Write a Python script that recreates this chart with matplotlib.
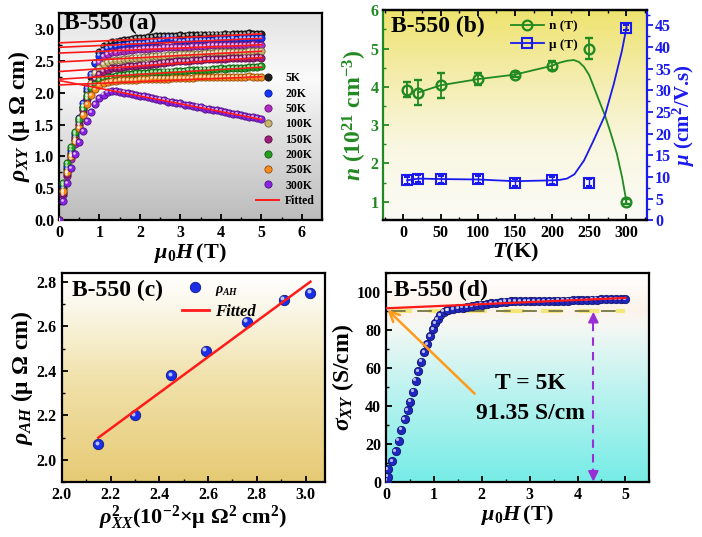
import numpy as np
import matplotlib
matplotlib.use('Agg')
import matplotlib.pyplot as plt
from matplotlib.colors import LinearSegmentedColormap, to_rgb
from matplotlib.transforms import offset_copy
from matplotlib.ticker import MultipleLocator
from matplotlib.lines import Line2D

plt.rcParams.update({
    'font.family': 'Liberation Serif', 'font.weight': 'bold', 'axes.labelweight': 'bold',
    'mathtext.fontset': 'custom', 'mathtext.rm': 'Liberation Serif:bold',
    'mathtext.it': 'Liberation Serif:italic:bold', 'mathtext.bf': 'Liberation Serif:bold',
    'xtick.direction': 'in', 'ytick.direction': 'in', 'axes.linewidth': 1.6,
    'xtick.major.width': 1.3, 'ytick.major.width': 1.3, 'xtick.minor.width': 1.0, 'ytick.minor.width': 1.0,
    'xtick.major.size': 4, 'ytick.major.size': 4, 'xtick.minor.size': 2.5, 'ytick.minor.size': 2.5,
    'xtick.labelsize': 11.5, 'ytick.labelsize': 11.5,
})

# ---------------- data (a) ----------------
field_a = np.round(np.arange(0, 5.01, 0.1), 2)
temps_a = ['5K', '20K', '50K', '100K', '150K', '200K', '250K', '300K']
colors_a = ['#1e1e1e', '#1434ff', '#b02cc4', '#c8b46e', '#a01c7c', '#22a022', '#ff8c1a', '#8a22e6']
rho_5K = [0.00, 0.50, 0.80, 1.05, 1.30, 1.55, 1.78, 2.02, 2.25, 2.47, 2.64, 2.73, 2.77, 2.79, 2.80, 2.81,
          2.82, 2.83, 2.84, 2.85, 2.86, 2.86, 2.87, 2.87, 2.88, 2.88, 2.88, 2.89, 2.89, 2.89, 2.90,
          2.89, 2.90, 2.90, 2.90, 2.91, 2.90, 2.91, 2.91, 2.91, 2.91, 2.92, 2.91, 2.92, 2.92, 2.92,
          2.92, 2.93, 2.92, 2.92, 2.92]
rho_20K = [0.00, 0.55, 0.85, 1.10, 1.35, 1.60, 1.84, 2.07, 2.29, 2.46, 2.58, 2.66, 2.70, 2.72, 2.73, 2.74,
           2.75, 2.76, 2.77, 2.77, 2.78, 2.78, 2.79, 2.80, 2.81, 2.82, 2.84, 2.85, 2.84, 2.82, 2.81,
           2.81, 2.82, 2.82, 2.82, 2.83, 2.83, 2.83, 2.83, 2.84, 2.84, 2.84, 2.84, 2.85, 2.84, 2.85,
           2.85, 2.85, 2.85, 2.86, 2.85]
rho_50K = [0.00, 0.40, 0.70, 0.96, 1.20, 1.44, 1.67, 1.90, 2.12, 2.32, 2.48, 2.57, 2.61, 2.63, 2.64, 2.65,
           2.66, 2.67, 2.67, 2.68, 2.68, 2.69, 2.69, 2.70, 2.70, 2.70, 2.71, 2.71, 2.71, 2.72, 2.72,
           2.72, 2.72, 2.73, 2.73, 2.73, 2.73, 2.74, 2.74, 2.74, 2.74, 2.74, 2.75, 2.74, 2.75, 2.75,
           2.75, 2.75, 2.76, 2.75, 2.75]
rho_100K = [0.00, 0.45, 0.76, 1.02, 1.27, 1.51, 1.74, 1.96, 2.15, 2.30, 2.39, 2.45, 2.48, 2.50, 2.51, 2.51,
            2.52, 2.53, 2.54, 2.55, 2.55, 2.56, 2.56, 2.57, 2.57, 2.58, 2.58, 2.59, 2.59, 2.59, 2.60,
            2.60, 2.60, 2.61, 2.61, 2.61, 2.62, 2.62, 2.62, 2.63, 2.63, 2.63, 2.63, 2.64, 2.64, 2.64,
            2.64, 2.65, 2.65, 2.65, 2.65]
rho_150K = [0.00, 0.42, 0.73, 1.00, 1.25, 1.49, 1.72, 1.92, 2.09, 2.21, 2.29, 2.33, 2.36, 2.38, 2.39, 2.39,
            2.40, 2.41, 2.42, 2.42, 2.43, 2.44, 2.44, 2.45, 2.45, 2.46, 2.47, 2.48, 2.48, 2.49, 2.49,
            2.50, 2.50, 2.51, 2.51, 2.51, 2.52, 2.52, 2.52, 2.53, 2.53, 2.53, 2.54, 2.54, 2.54, 2.54,
            2.55, 2.55, 2.55, 2.56, 2.55]
rho_200K = [0.00, 0.58, 0.90, 1.15, 1.38, 1.59, 1.78, 1.95, 2.07, 2.14, 2.19, 2.22, 2.24, 2.25, 2.26, 2.27,
            2.28, 2.29, 2.29, 2.30, 2.30, 2.31, 2.31, 2.32, 2.32, 2.32, 2.33, 2.33, 2.33, 2.34, 2.34,
            2.34, 2.35, 2.35, 2.35, 2.36, 2.36, 2.36, 2.37, 2.37, 2.38, 2.37, 2.38, 2.38, 2.39, 2.39,
            2.39, 2.40, 2.40, 2.40, 2.41]
rho_250K = [0.00, 0.45, 0.75, 1.00, 1.24, 1.45, 1.65, 1.82, 1.96, 2.06, 2.12, 2.15, 2.17, 2.18, 2.18, 2.19,
            2.19, 2.20, 2.20, 2.20, 2.21, 2.21, 2.21, 2.22, 2.22, 2.22, 2.22, 2.22, 2.23, 2.23, 2.23,
            2.23, 2.23, 2.23, 2.24, 2.24, 2.24, 2.24, 2.24, 2.24, 2.25, 2.25, 2.24, 2.25, 2.25, 2.25,
            2.25, 2.26, 2.25, 2.25, 2.25]
rho_300K = [0.00, 0.30, 0.58, 0.82, 1.03, 1.22, 1.40, 1.56, 1.70, 1.82, 1.91, 1.97, 2.01, 2.02, 2.02, 2.01,
            2.00, 1.99, 1.98, 1.96, 1.95, 1.94, 1.93, 1.91, 1.90, 1.89, 1.88, 1.86, 1.85, 1.84, 1.83,
            1.81, 1.80, 1.79, 1.78, 1.77, 1.75, 1.74, 1.73, 1.72, 1.71, 1.69, 1.68, 1.67, 1.66, 1.65,
            1.63, 1.62, 1.61, 1.60, 1.58]
rho_all = [rho_5K, rho_20K, rho_50K, rho_100K, rho_150K, rho_200K, rho_250K, rho_300K]
fit_field_a = [0.0, 5.0]
fit_start_a = [2.78, 2.71, 2.62, 2.48, 2.33, 2.21, 2.12, 2.19]
fit_end_a = [2.92, 2.85, 2.75, 2.65, 2.55, 2.40, 2.25, 1.58]

# ---------------- data (b) ----------------
T_b = [5, 20, 50, 100, 150, 200, 250, 300]
n_b = [3.93, 3.85, 4.04, 4.20, 4.32, 4.55, 5.00, 1.00]
n_err = [0.20, 0.32, 0.33, 0.16, 0.07, 0.12, 0.27, 0.06]
mu_b = [9.2, 9.6, 9.4, 9.4, 8.6, 9.2, 8.6, 44.5]
mu_err = [0.8, 0.8, 0.7, 0.8, 0.8, 0.8, 0.8, 0.6]
n_line_T = [20, 50, 100, 150, 200, 210, 220, 229, 236, 243, 250, 256, 263, 271, 279, 287, 294, 300]
n_line = [3.85, 4.04, 4.20, 4.32, 4.55, 4.63, 4.68, 4.70, 4.65, 4.52, 4.30, 4.00, 3.65, 3.26, 2.78, 2.26, 1.65, 1.00]
mu_line_T = [5, 20, 50, 100, 150, 200, 210, 220, 230, 243, 256, 271, 283, 294, 300]
mu_line = [9.2, 9.6, 9.5, 9.4, 9.0, 9.2, 9.3, 9.6, 10.6, 13.8, 18.5, 24.2, 31.5, 39.2, 44.5]

# ---------------- data (c) ----------------
rho_xx2 = [2.15, 2.30, 2.45, 2.59, 2.76, 2.91, 3.02]
rho_ah = [2.07, 2.20, 2.38, 2.49, 2.62, 2.72, 2.75]
fit_c_x = [2.15, 3.02]
fit_c_y = [2.10, 2.80]

# ---------------- data (d) ----------------
field_d = [0.01, 0.035, 0.035, 0.13, 0.20, 0.26, 0.32, 0.39, 0.45, 0.50, 0.56, 0.62, 0.67, 0.73, 0.79,
           0.86, 0.92, 0.98, 1.03, 1.08, 1.13, 1.20, 1.27,
           1.3, 1.4, 1.5, 1.6, 1.7, 1.8, 1.9, 2.0, 2.1, 2.2, 2.3, 2.4, 2.5, 2.6, 2.7, 2.8, 2.9, 3.0,
           3.1, 3.2, 3.3, 3.4, 3.5, 3.6, 3.7, 3.8, 3.9, 4.0, 4.1, 4.2, 4.3, 4.4, 4.5, 4.6, 4.7, 4.8,
           4.9, 5.0]
sigma_d = [0.9, 3.0, 6.8, 11.2, 16.4, 21.9, 27.6, 33.0, 37.9, 42.3, 47.6, 53.3, 58.4, 63.3, 68.2,
           72.6, 76.7, 80.4, 83.4, 85.5, 87.8, 89.5, 90.4,
           90.4, 91.0, 91.3, 91.7, 92.1, 92.5, 92.9, 93.3, 93.6, 93.9, 94.2, 94.5, 94.8, 95.0, 95.1,
           95.1, 95.0, 95.1, 95.2, 95.1, 95.1, 95.2, 95.1, 95.3, 95.3, 95.4, 95.5, 95.6, 95.6, 95.7,
           95.8, 95.9, 96.0, 96.0, 96.1, 96.1, 96.2, 96.2]
fit_d_x = [0.0, 5.0]
fit_d_y = [91.35, 96.8]
sigma_level = 90.0
arrow_H = 4.33

green = '#228a22'
blue = '#1a1aee'

fig = plt.figure(figsize=(7.02, 5.37), dpi=100)


def grad_bg(ax, stops):
    cmap = LinearSegmentedColormap.from_list('g', stops)
    ax.imshow(np.linspace(0, 1, 256).reshape(-1, 1), cmap=cmap, extent=[0, 1, 0, 1],
              transform=ax.transAxes, aspect='auto', origin='lower', zorder=0)


def darker(c, f=0.55):
    r, g, b = to_rgb(c)
    return (r * f, g * f, b * f)


def spheres(ax, x, y, color, ms, zorder=3, label=None):
    ax.plot(x, y, 'o', ls='none', ms=ms, mfc=color, mec=darker(color), mew=0.6, zorder=zorder, label=label)
    tr = offset_copy(ax.transData, fig=ax.figure, x=-ms * 0.16, y=ms * 0.16, units='points')
    ax.plot(x, y, 'o', ls='none', ms=ms * 0.38, mfc='white', mec='none', alpha=0.7,
            zorder=zorder + 0.1, transform=tr)


XL = 16
YL = 17

# ---------------- panel (a) ----------------
axa = fig.add_axes([0.084, 0.590, 0.375, 0.386])
grad_bg(axa, [(0, '#bcbcbc'), (0.45, '#e4e4e4'), (0.68, '#fbfbfb'), (1, '#e2e2e2')])
handles = []
for lab, col, vals in zip(temps_a, colors_a, rho_all):
    spheres(axa, field_a, vals, col, 5.2)
    handles.append(Line2D([], [], ls='none', marker='o', ms=5.2, mfc=col, mec=darker(col), mew=0.6))
for s, e in zip(fit_start_a, fit_end_a):
    axa.plot(fit_field_a, [s, e], color='#ff1a1a', lw=1.2, zorder=5)
handles.append(Line2D([], [], color='#ff1a1a', lw=1.4))
axa.legend(handles, temps_a + ['Fitted'], loc='lower right', bbox_to_anchor=(1.0, 0.03), frameon=False,
           fontsize=8.5, labelspacing=0.28, handlelength=2.0, handletextpad=0.5, borderaxespad=0.2)
axa.set_xlim(0, 6.5)
axa.set_ylim(0, 3.25)
axa.xaxis.set_major_locator(MultipleLocator(1))
axa.xaxis.set_minor_locator(MultipleLocator(0.5))
axa.yaxis.set_major_locator(MultipleLocator(0.5))
axa.yaxis.set_minor_locator(MultipleLocator(0.25))
axa.yaxis.set_major_formatter(matplotlib.ticker.FormatStrFormatter('%.1f'))
axa.set_xlabel(r'$\mu_0H\,$(T)', fontsize=XL, labelpad=0)
axa.set_ylabel(r'$\rho_{XY}$ (μ Ω cm)', fontsize=YL, labelpad=1)
axa.text(0.02, 0.998, 'B-550 (a)', transform=axa.transAxes, fontsize=17, va='top', ha='left', zorder=6)

# ---------------- panel (b) ----------------
axb = fig.add_axes([0.546, 0.590, 0.375, 0.391])
grad_bg(axb, [(0, '#fbfbf6'), (0.35, '#f9f7e2'), (0.7, '#f4ecaa'), (1, '#eee36e')])
axb.plot(n_line_T, n_line, color=green, lw=1.3, zorder=2)
axb.errorbar(T_b, n_b, yerr=n_err, fmt='o', ms=7, mfc='none', mec=green, mew=1.7, ecolor=green,
             elinewidth=1.3, capsize=3, capthick=1.3, zorder=3)
axb.set_xlim(-27, 327)
axb.set_ylim(0.52, 6)
axb.xaxis.set_major_locator(MultipleLocator(50))
axb.xaxis.set_minor_locator(MultipleLocator(25))
axb.yaxis.set_major_locator(MultipleLocator(1))
axb.yaxis.set_minor_locator(MultipleLocator(0.5))
axb.tick_params(axis='x', which='both', top=True)
axb.tick_params(axis='y', which='both', colors=green)
axb.spines['left'].set_color(green)
axb.spines['right'].set_visible(False)
axb.set_xlabel(r'$T$(K)', fontsize=XL, labelpad=0)
axb.set_ylabel(r'$n$ (10$^{21}$ cm$^{-3}$)', fontsize=YL, color=green, labelpad=1)
axb.text(0.03, 0.975, 'B-550 (b)', transform=axb.transAxes, fontsize=17, va='top', ha='left', zorder=6)

axb2 = axb.twinx()
axb2.plot(mu_line_T, mu_line, color=blue, lw=1.3, zorder=2)
axb2.errorbar(T_b, mu_b, yerr=mu_err, fmt='s', ms=7.5, mfc='none', mec=blue, mew=1.5, ecolor=blue,
              elinewidth=1.0, capsize=2, capthick=1.0, zorder=3)
axb2.set_ylim(0, 48.5)
axb2.yaxis.set_major_locator(MultipleLocator(5))
axb2.yaxis.set_minor_locator(MultipleLocator(2.5))
axb2.tick_params(axis='y', which='both', direction='out', colors=blue, pad=2)
axb2.spines['right'].set_color(blue)
axb2.spines['left'].set_visible(False)
axb2.set_ylabel(r'$\mu$ (cm$^2$/V.s)', fontsize=15, color=blue, labelpad=0)
hb = [Line2D([], [], color=green, lw=1.3, marker='o', ms=7, mfc='none', mec=green, mew=1.6),
      Line2D([], [], color=blue, lw=1.3, marker='s', ms=7.5, mfc='none', mec=blue, mew=1.5)]
axb2.legend(hb, ['n (T)', 'μ (T)'], loc='upper left', bbox_to_anchor=(0.44, 1.01), frameon=False,
            fontsize=9.5, handlelength=2.5, handletextpad=0.4, labelspacing=0.5)

# ---------------- panel (c) ----------------
axc = fig.add_axes([0.088, 0.102, 0.375, 0.390])
grad_bg(axc, [(0, '#e6ca74'), (0.5, '#f1e2ac'), (0.85, '#fbf8ec'), (1, '#ffffff')])
spheres(axc, rho_xx2, rho_ah, '#1a2ee6', 7.5, label=r'$\rho_{AH}$')
axc.plot(fit_c_x, fit_c_y, color='#ff1a1a', lw=1.8, zorder=4)
hc = [Line2D([], [], ls='none', marker='o', ms=7.5, mfc='#1a2ee6', mec=darker('#1a2ee6'), mew=0.6),
      Line2D([], [], color='#ff1a1a', lw=2.0)]
lc = axc.legend(hc, [r'$\rho_{AH}$', 'Fitted'], loc='upper left', bbox_to_anchor=(0.40, 1.03),
                frameon=False, fontsize=12, handlelength=1.6, handletextpad=0.35, labelspacing=0.35)
lc.get_texts()[1].set_fontstyle('italic')
lc.get_texts()[0].set_fontsize(10)
axc.set_xlim(2.0, 3.08)
axc.set_ylim(1.9, 2.84)
axc.xaxis.set_major_locator(MultipleLocator(0.2))
axc.xaxis.set_minor_locator(MultipleLocator(0.1))
axc.yaxis.set_major_locator(MultipleLocator(0.2))
axc.yaxis.set_minor_locator(MultipleLocator(0.1))
axc.xaxis.set_major_formatter(matplotlib.ticker.FormatStrFormatter('%.1f'))
axc.yaxis.set_major_formatter(matplotlib.ticker.FormatStrFormatter('%.1f'))
axc.set_xlabel(r'$\rho^2_{XX}$(10$^{-2}$×μ Ω$^2$ cm$^2$)', fontsize=XL, labelpad=0)
axc.set_ylabel(r'$\rho_{AH}$ (μ Ω cm)', fontsize=YL, labelpad=1)
axc.text(0.04, 0.965, 'B-550 (c)', transform=axc.transAxes, fontsize=17, va='top', ha='left', zorder=6)

# ---------------- panel (d) ----------------
axd = fig.add_axes([0.550, 0.102, 0.375, 0.390])
grad_bg(axd, [(0, '#76ece6'), (0.45, '#bff3f0'), (0.75, '#f6f8f4'), (0.82, '#fcf3ea'), (1, '#ffffff')])
spheres(axd, field_d, sigma_d, '#2026c0', 6.0)
axd.plot(fit_d_x, fit_d_y, color='#ff1a1a', lw=1.6, zorder=5)
axd.plot([0.1, 5.0], [sigma_level, sigma_level], color='#f0e030', lw=3.0, ls=(0, (5, 4)), zorder=2, alpha=0.6)
axd.plot([0.1, 5.0], [sigma_level, sigma_level], color='#7f7f4a', lw=1.4, ls=(0, (7.5, 6)), zorder=2)
axd.annotate('', xy=(0.03, fit_d_y[0] - 0.8), xytext=(1.85, 46.5),
             arrowprops=dict(arrowstyle='->,head_length=0.7,head_width=0.35', color='#ff9a1a', lw=1.8,
                             shrinkA=0, shrinkB=0), zorder=6)
axd.plot([arrow_H, arrow_H], [3, 86], color='#9a2ed6', lw=1.5, ls=(0, (4, 3)), zorder=4)
axd.annotate('', xy=(arrow_H, 89.5), xytext=(arrow_H, 84),
             arrowprops=dict(arrowstyle='-|>,head_length=0.6,head_width=0.3', color='#9a2ed6', lw=1.5,
                             shrinkA=0, shrinkB=0), zorder=4)
axd.annotate('', xy=(arrow_H, 0.3), xytext=(arrow_H, 6),
             arrowprops=dict(arrowstyle='-|>,head_length=0.6,head_width=0.3', color='#9a2ed6', lw=1.5,
                             shrinkA=0, shrinkB=0), zorder=4)
axd.text(3.02, 52, 'T = 5K', ha='center', va='center', fontsize=17)
axd.text(3.02, 36, '%.2f S/cm' % fit_d_y[0], ha='center', va='center', fontsize=17)
axd.set_xlim(0, 5.5)
axd.set_ylim(0, 110)
axd.xaxis.set_major_locator(MultipleLocator(1))
axd.xaxis.set_minor_locator(MultipleLocator(0.5))
axd.yaxis.set_major_locator(MultipleLocator(20))
axd.yaxis.set_minor_locator(MultipleLocator(10))
axd.set_xlabel(r'$\mu_0H\,$(T)', fontsize=XL, labelpad=0)
axd.set_ylabel(r'$\sigma_{XY}$ (S/cm)', fontsize=YL, labelpad=1)
axd.text(0.03, 0.965, 'B-550 (d)', transform=axd.transAxes, fontsize=17, va='top', ha='left', zorder=6)

fig.savefig('out.png', dpi=100)
